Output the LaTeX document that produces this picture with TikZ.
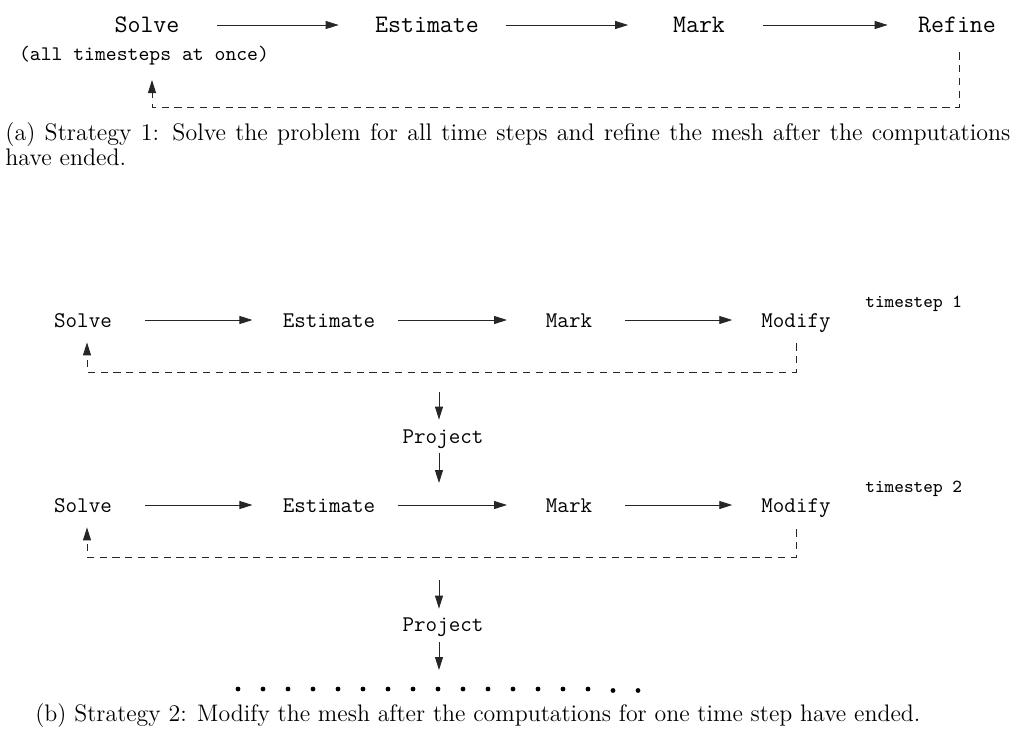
\documentclass[tikz,border=0pt]{standalone}
\usepackage{fontspec}
\usetikzlibrary{arrows.meta}
\begin{document}
\begin{tikzpicture}[x=0.5pt,y=-0.5pt,
  lbl/.style={inner sep=0pt,text height=7pt,text depth=0pt,font=\ttfamily\fontsize{11.2}{13}\selectfont},
  lbla/.style={lbl,font=\ttfamily\fontsize{12.6}{15}\selectfont},
  notetxt/.style={inner sep=0pt,anchor=base,font=\ttfamily\fontsize{10.35}{12}\selectfont},
  tsnote/.style={inner sep=0pt,anchor=base west,font=\ttfamily\fontsize{9.2}{11}\selectfont},
  captxt/.style={inner sep=0pt,anchor=base west,font=\fontsize{12}{14}\selectfont},
  capbtxt/.style={captxt,font=\fontsize{11.94}{14}\selectfont},
  arr/.style={line width=0.45pt,draw=black!85,-{Triangle[length=6.5pt,width=4pt]}},
  fbline/.style={arr,dash pattern=on 3.6pt off 2.8pt},
  dotnode/.style={circle,fill=black,inner sep=0pt,minimum size=2.4pt}
]
\useasboundingbox (0,0) rectangle (1013,729);

% ---------- (a) ----------
\node[lbla] (sa) at (147,25) {Solve};
\node[lbla] (ea) at (427,25) {Estimate};
\node[lbla] (ma) at (699,25) {Mark};
\node[lbla] (ra) at (957,25) {Refine};
\node[notetxt] (san) at (144,60) {(all timesteps at once)};

\draw[arr,shorten <=18.5pt,shorten >=18pt] (sa) -- (ea);
\draw[arr,shorten <=13.5pt,shorten >=22.25pt] (ea) -- (ma);
\draw[arr,shorten <=18.75pt,shorten >=15pt] (ma) -- (ra);

\coordinate (fa) at (152,107);
\draw[fbline] ([shift={(2,20)}]ra.south) |- (fa) -- ([shift={(8,20)}]san.base);

\node[captxt] (capa1) at (5,140) {\hbox to 502.5pt{(a) Strategy 1: Solve the problem for all time steps and refine the mesh after the computations}};
\node[captxt] (capa2) at (5,165) {have ended.};

% ---------- (b) timestep 1 ----------
\node[lbl] (sb1) at (83,320) {Solve};
\node[lbl] (eb1) at (329,320) {Estimate};
\node[lbl] (mb1) at (569,320) {Mark};
\node[lbl] (db1) at (796,320) {Modify};
\node[tsnote] (ts1) at (865,307) {timestep 1};

\draw[arr,shorten <=16.3pt,shorten >=15pt] (sb1) -- (eb1);
\draw[arr,shorten <=11pt,shorten >=19.25pt] (eb1) -- (mb1);
\draw[arr,shorten <=16.25pt,shorten >=14.35pt] (mb1) -- (db1);

\coordinate (fb1) at (87,372);
\draw[fbline] ([shift={(0,16)}]db1.south) |- (fb1) -- ([shift={(4,15)}]sb1.south);

\node[lbl] (p1) at (443,436) {Project};
\coordinate (p1in) at (439,392);
\coordinate (p1out) at (439,483);
\draw[arr,shorten >=4.5pt] (p1in) -- (p1in |- p1.north);
\draw[arr,shorten <=5pt] (p1out |- p1.south) -- (p1out);

% ---------- (b) timestep 2 ----------
\node[lbl] (sb2) at (83,505) {Solve};
\node[lbl] (eb2) at (329,505) {Estimate};
\node[lbl] (mb2) at (569,505) {Mark};
\node[lbl] (db2) at (796,505) {Modify};
\node[tsnote] (ts2) at (865,492) {timestep 2};

\draw[arr,shorten <=16.3pt,shorten >=15pt] (sb2) -- (eb2);
\draw[arr,shorten <=11pt,shorten >=19.25pt] (eb2) -- (mb2);
\draw[arr,shorten <=16.25pt,shorten >=14.35pt] (mb2) -- (db2);

\coordinate (fb2) at (87,557);
\draw[fbline] ([shift={(0,17)}]db2.south) |- (fb2) -- ([shift={(4,15)}]sb2.south);

\node[lbl] (p2) at (443,624) {Project};
\coordinate (p2in) at (439,580);
\coordinate (p2out) at (439,670);
\draw[arr,shorten >=4pt] (p2in) -- (p2in |- p2.north);
\draw[arr,shorten <=5.5pt] (p2out |- p2.south) -- (p2out);

% dots
\foreach \k in {0,...,14} { \node[dotnode] (d\k) at (238+25*\k,689) {}; }
\node[dotnode] (d15) at (613,690.5) {};
\node[dotnode] (d16) at (638,690.5) {};

\node[capbtxt] (capb) at (35,721) {(b) Strategy 2: Modify the mesh after the computations for one time step have ended.};
\end{tikzpicture}
\end{document}
